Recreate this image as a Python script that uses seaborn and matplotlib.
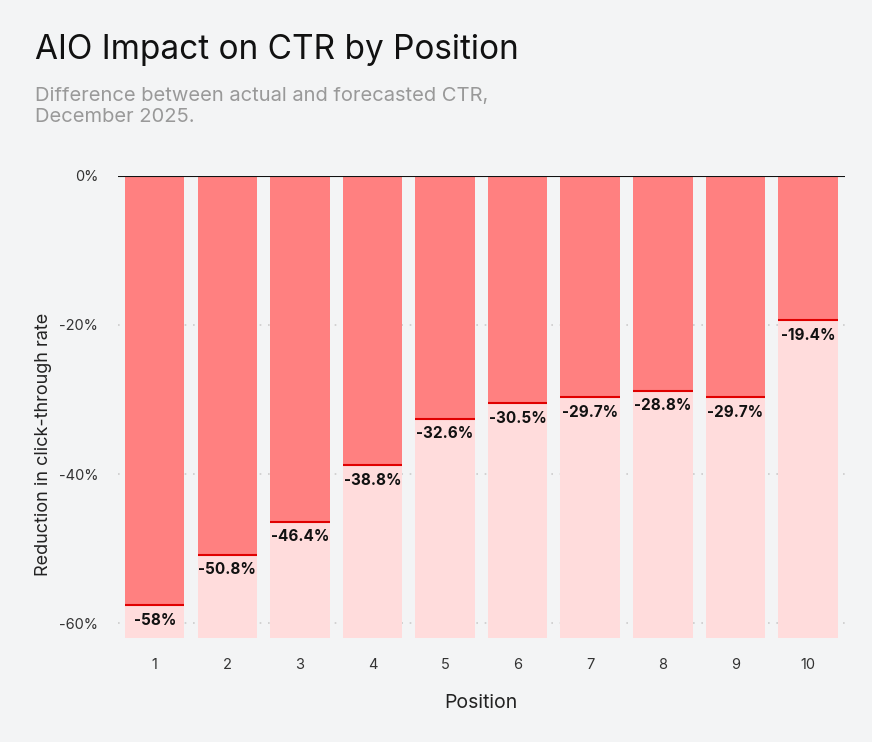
import matplotlib
matplotlib.use("Agg")
import matplotlib.pyplot as plt
import seaborn as sns
import pandas as pd

positions = ["1", "2", "3", "4", "5", "6", "7", "8", "9", "10"]
values = [-57.6, -50.8, -46.4, -38.8, -32.6, -30.5, -29.7, -28.8, -29.7, -19.4]
labels = ["-58%", "-50.8%", "-46.4%", "-38.8%", "-32.6%", "-30.5%", "-29.7%", "-28.8%", "-29.7%", "-19.4%"]
floor = -62

sns.set_theme(style="white")
plt.rcParams["font.family"] = ["Inter", "DejaVu Sans"]
bg = "#f3f4f5"
fig = plt.figure(figsize=(8.72, 7.42), dpi=100, facecolor=bg)
ax = fig.add_axes([0.135, 0.140, 0.834, 0.623], facecolor=bg)

df = pd.DataFrame({"pos": positions, "val": values, "floor": [floor]*len(values)})
sns.barplot(data=df, x="pos", y="floor", color="#ffdcdc", saturation=1, width=0.82, linewidth=0, ax=ax)
sns.barplot(data=df, x="pos", y="val", color="#ff8080", saturation=1, width=0.82, linewidth=0, ax=ax)

for i, (v, l) in enumerate(zip(values, labels)):
    ax.hlines(v, i - 0.41, i + 0.41, color="#e00000", lw=1.5, zorder=5)
    ax.text(i, v - 1.0, l, ha="center", va="top", fontsize=11, fontweight="bold", color="#111111", zorder=6)

ax.set_ylim(floor, 0)
ax.set_xlim(-0.51, 9.51)
ax.set_yticks([0, -20, -40, -60])
ax.set_yticklabels(["0%", "-20%", "-40%", "-60%"], fontsize=10.5, color="#333333")
for y in [-20, -40, -60]:
    ax.axhline(y, color="#cccccc", lw=1.2, ls=(0, (1, 4)), zorder=0.5)
ax.axhline(0, color="#111111", lw=1.5, zorder=7)
for s in ax.spines.values():
    s.set_visible(False)
ax.tick_params(axis="both", length=0, pad=14, labelsize=10.5, colors="#333333")
ax.set_xlabel("Position", fontsize=14, labelpad=16, color="#222222")
ax.set_ylabel("Reduction in click-through rate", fontsize=13, labelpad=14, color="#222222")
ax.yaxis.set_label_coords(-0.09, 0.42)

fig.text(0.040, 0.932, "AIO Impact on CTR by Position", fontsize=24, color="#111111", va="center")
fig.text(0.040, 0.856, "Difference between actual and forecasted CTR,\nDecember 2025.", fontsize=14.5, color="#999999", va="center", linespacing=1.2)

fig.savefig("out.png", dpi=100, facecolor=bg)
